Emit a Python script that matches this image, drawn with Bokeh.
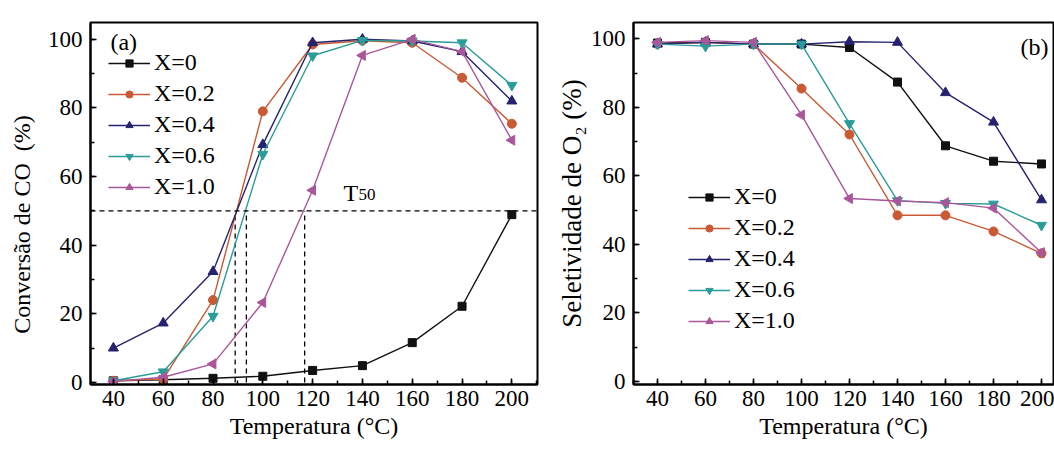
import numpy as np
from bokeh.plotting import figure
from bokeh.layouts import row
from bokeh.models import Span, SingleIntervalTicker, Label, Legend, LegendItem
from bokeh.embed import file_html
from bokeh.resources import INLINE

# ---------------- data ----------------
TEMPS = [40, 60, 80, 100, 120, 140, 160, 180, 200]
SERIES = ["X=0", "X=0.2", "X=0.4", "X=0.6", "X=1.0"]

# (a) CO conversion (%)
CONV_X0 = [0.5, 0.8, 1.2, 1.8, 3.5, 4.9, 11.6, 22.2, 48.9]
CONV_X02 = [0.5, 1.0, 24.0, 79.0, 98.5, 99.6, 99.0, 88.8, 75.4]
CONV_X04 = [10.0, 17.3, 32.3, 69.3, 99.0, 100.0, 99.5, 96.4, 82.0]
CONV_X06 = [0.5, 3.1, 19.3, 66.5, 95.2, 99.7, 99.5, 99.0, 86.6]
CONV_X10 = [0.3, 1.5, 5.4, 23.3, 56.0, 95.3, 100.0, 96.4, 70.6]

# (b) O2 selectivity (%)
SEL_X0 = [98.8, 99.0, 98.5, 98.5, 97.5, 87.4, 68.8, 64.3, 63.5]
SEL_X02 = [98.5, 99.0, 98.5, 85.5, 72.1, 48.5, 48.5, 43.8, 37.4]
SEL_X04 = [98.5, 99.0, 98.5, 98.5, 99.2, 99.0, 84.3, 75.7, 53.0]
SEL_X06 = [98.5, 97.9, 98.5, 98.5, 75.3, 52.8, 52.0, 51.8, 45.6]
SEL_X10 = [99.0, 99.5, 99.0, 77.8, 53.4, 52.7, 52.2, 50.6, 37.6]

T50_LEVEL = 50
T50_TEMPS = [88.9, 93.4, 116.8]

COLORS = ["#111111", "#c95a34", "#25236f", "#2b9d99", "#a9579b"]
MARKERS = ["square", "circle", "triangle", "inverted_triangle", "triangle"]
ANGLES_DEG = [0.0, 0.0, 0.0, 0.0, 90.0]
SIZES = [8, 9, 10, 10, 10]

FONT = "Liberation Serif"
NB = "\u00a0"


def style(p, ylabel, ysize):
    p.background_fill_color = "white"
    p.border_fill_color = "white"
    p.outline_line_color = "black"
    p.outline_line_width = 2
    p.xgrid.visible = False
    p.ygrid.visible = False
    p.xaxis.ticker = SingleIntervalTicker(interval=20, num_minor_ticks=2)
    p.yaxis.ticker = SingleIntervalTicker(interval=20, num_minor_ticks=2)
    for ax in (p.xaxis, p.yaxis):
        ax.axis_line_width = 2
        ax.axis_line_color = "black"
        ax.major_tick_in = 6
        ax.major_tick_out = 0
        ax.minor_tick_in = 4
        ax.minor_tick_out = 0
        ax.major_tick_line_width = 1.5
        ax.minor_tick_line_width = 1.5
        ax.major_label_text_font = FONT
        ax.major_label_text_font_size = "23px"
        ax.major_label_text_color = "black"
        ax.axis_label_text_font = FONT
        ax.axis_label_text_font_size = "24px"
        ax.axis_label_text_font_style = "normal"
        ax.axis_label_text_color = "black"
    p.yaxis.axis_label_text_font_size = ysize
    p.xaxis.axis_label = "Temperatura (°C)"
    p.yaxis.axis_label = ylabel
    p.xaxis.major_label_standoff = 6
    p.xaxis.axis_label_standoff = 4
    p.yaxis.major_label_standoff = 8
    p.yaxis.axis_label_standoff = 10


def add_series(p, ys_list):
    items = []
    for name, ys, c, m, a, s in zip(SERIES, ys_list, COLORS, MARKERS, ANGLES_DEG, SIZES):
        r1 = p.line(TEMPS, ys, line_color=c, line_width=1.4)
        r2 = p.scatter(TEMPS, ys, marker=m, angle=a, angle_units="deg", size=s,
                       fill_color=c, line_color=c)
        items.append(LegendItem(label=name, renderers=[r1, r2]))
    return items


def make_legend(items, loc):
    lg = Legend(items=items, location=loc)
    lg.label_text_font = FONT
    lg.label_text_font_size = "24px"
    lg.label_text_color = "black"
    lg.glyph_width = 42
    lg.glyph_height = 18
    lg.label_height = 31
    lg.label_standoff = 4
    lg.spacing = 0
    lg.padding = 0
    lg.margin = 0
    lg.border_line_color = None
    lg.background_fill_alpha = 0
    return lg


# ---------------- panel (a) ----------------
pa = figure(width=550, height=452, x_range=(30.8, 210.3), y_range=(-0.6, 104.9),
            output_backend="svg", toolbar_location=None,
            min_border_left=90, min_border_right=13, min_border_top=17, min_border_bottom=66)
style(pa, "Conversão de CO" + NB + NB + "(%)" + NB * 7, "24px")

pa.add_layout(Span(location=T50_LEVEL, dimension="width", line_color="black",
                   line_width=1.3, line_dash="5 4"))
pa.segment(x0=T50_TEMPS, y0=[0] * len(T50_TEMPS), x1=T50_TEMPS, y1=[T50_LEVEL] * len(T50_TEMPS),
           line_color="black", line_width=1.3, line_dash="5 4")

items_a = add_series(pa, [CONV_X0, CONV_X02, CONV_X04, CONV_X06, CONV_X10])
pa.add_layout(make_legend(items_a, (18, 182)))

pa.add_layout(Label(x=38.8, y=99.2, text="(a)", text_font=FONT, text_font_size="24px",
                    text_baseline="middle", text_align="left", text_color="black"))
pa.add_layout(Label(x=132.4, y=55.3, text="T", text_font=FONT, text_font_size="24px",
                    text_baseline="alphabetic", text_align="left", text_color="black"))
pa.add_layout(Label(x=138.4, y=54.8, text="50", text_font=FONT, text_font_size="17px",
                    text_baseline="alphabetic", text_align="left", text_color="black"))

# ---------------- panel (b) ----------------
pb = figure(width=504, height=452, x_range=(30, 205), y_range=(-0.9, 104.8),
            output_backend="svg", toolbar_location=None,
            min_border_left=83, min_border_right=1, min_border_top=22, min_border_bottom=68)
style(pb, "Seletividade de O₂ (%)", "27px")
pb.yaxis.axis_label_standoff = 1

items_b = add_series(pb, [SEL_X0, SEL_X02, SEL_X04, SEL_X06, SEL_X10])
pb.add_layout(make_legend(items_b, (55, 48)))
pb.add_layout(Label(x=191.3, y=97.7, text="(b)", text_font=FONT, text_font_size="24px",
                    text_baseline="middle", text_align="left", text_color="black"))

layout = row(pa, pb, spacing=0)
open("out.html", "w").write(file_html(layout, INLINE))
